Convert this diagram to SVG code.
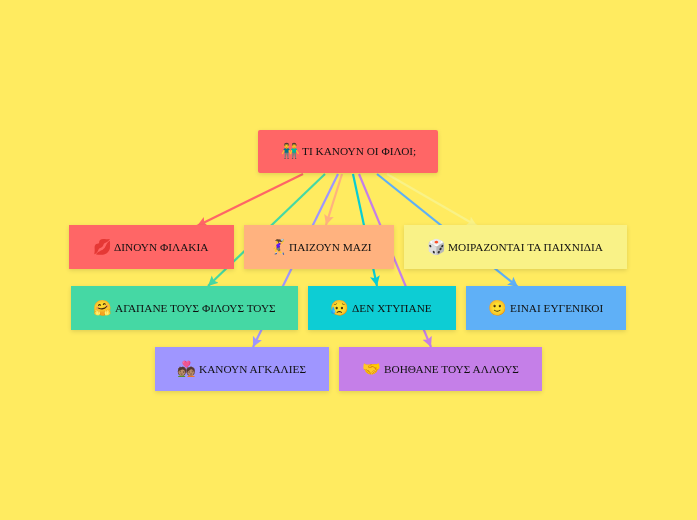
<svg xmlns="http://www.w3.org/2000/svg" width="697" height="520" viewBox="0 0 697 520">
<defs>
<filter id="sh" x="-10%" y="-20%" width="120%" height="150%"><feDropShadow dx="0" dy="1.5" stdDeviation="2" flood-color="#000" flood-opacity="0.12"/></filter>
<marker id="a1" markerUnits="userSpaceOnUse" markerWidth="12" markerHeight="12" refX="10" refY="5" orient="auto"><path d="M0 0L10 5L0 10L2 5Z" fill="context-stroke"/></marker>
</defs>
<style>
.n{filter:url(#sh)}
.t{font-family:"Liberation Serif","Noto Sans",serif;font-size:11.3px;fill:#111;dominant-baseline:central}
.e{font-family:"Noto Color Emoji","Liberation Sans",sans-serif;font-size:15px;dominant-baseline:central}
#c line{stroke-width:2.2;fill:none;marker-end:url(#a1)}
</style>
<rect width="697" height="520" fill="#FFEB60"/>
<g id="c">
<line x1="303" y1="174" x2="197" y2="226" stroke="#FF6666"/>
<line x1="325" y1="174" x2="208" y2="286" stroke="#45D8A4"/>
<line x1="338" y1="174" x2="253" y2="347" stroke="#9F96FF"/>
<line x1="342" y1="174" x2="326" y2="225" stroke="#FFB27F"/>
<line x1="353" y1="174" x2="377" y2="286" stroke="#08CDD4"/>
<line x1="359" y1="174" x2="431" y2="347" stroke="#C57FE8"/>
<line x1="377" y1="174" x2="518" y2="287" stroke="#5EB0F7"/>
<line x1="387" y1="174" x2="477" y2="226" stroke="#F9F287"/>
</g>
<g id="n0" class="n"><rect x="258" y="130" width="180" height="43" rx="2" fill="#FF6666"/><text class="e" x="281" y="151">👬</text><text class="t" x="302" y="151">ΤΙ ΚΑΝΟΥΝ ΟΙ ΦΙΛΟΙ;</text></g>
<g id="n1" class="n"><rect x="69" y="225" width="165" height="44" fill="#FF6666"/><text class="e" x="93" y="247">💋</text><text class="t" x="114" y="247">ΔΙΝΟΥΝ ΦΙΛΑΚΙΑ</text></g>
<g id="n2" class="n"><rect x="244" y="225" width="150" height="44" fill="#FFB27F"/><text class="e" x="269" y="247">🤾‍♀️</text><text class="t" x="289" y="247">ΠΑΙΖΟΥΝ ΜΑΖΙ</text></g>
<g id="n3" class="n"><rect x="404" y="225" width="223" height="44" fill="#F9F287"/><text class="e" x="427" y="247">🎲</text><text class="t" x="448" y="247">ΜΟΙΡΑΖΟΝΤΑΙ ΤΑ ΠΑΙΧΝΙΔΙΑ</text></g>
<g id="n4" class="n"><rect x="71" y="286" width="227" height="44" fill="#45D8A4"/><text class="e" x="93" y="308">🤗</text><text class="t" x="115" y="308">ΑΓΑΠΑΝΕ ΤΟΥΣ ΦΙΛΟΥΣ ΤΟΥΣ</text></g>
<g id="n5" class="n"><rect x="308" y="286" width="148" height="44" fill="#08CDD4"/><text class="e" x="330" y="308">😥</text><text class="t" x="352" y="308">ΔΕΝ ΧΤΥΠΑΝΕ</text></g>
<g id="n6" class="n"><rect x="466" y="286" width="160" height="44" fill="#5EB0F7"/><text class="e" x="488" y="308">🙂</text><text class="t" x="510" y="308">ΕΙΝΑΙ ΕΥΓΕΝΙΚΟΙ</text></g>
<g id="n7" class="n"><rect x="155" y="347" width="174" height="44" fill="#9F96FF"/><text class="e" x="177" y="369">💑🏽</text><text class="t" x="199" y="369">ΚΑΝΟΥΝ ΑΓΚΑΛΙΕΣ</text></g>
<g id="n8" class="n"><rect x="339" y="347" width="203" height="44" fill="#C57FE8"/><text class="e" x="362" y="369">🤝</text><text class="t" x="384" y="369">ΒΟΗΘΑΝΕ ΤΟΥΣ ΑΛΛΟΥΣ</text></g>
</svg>
